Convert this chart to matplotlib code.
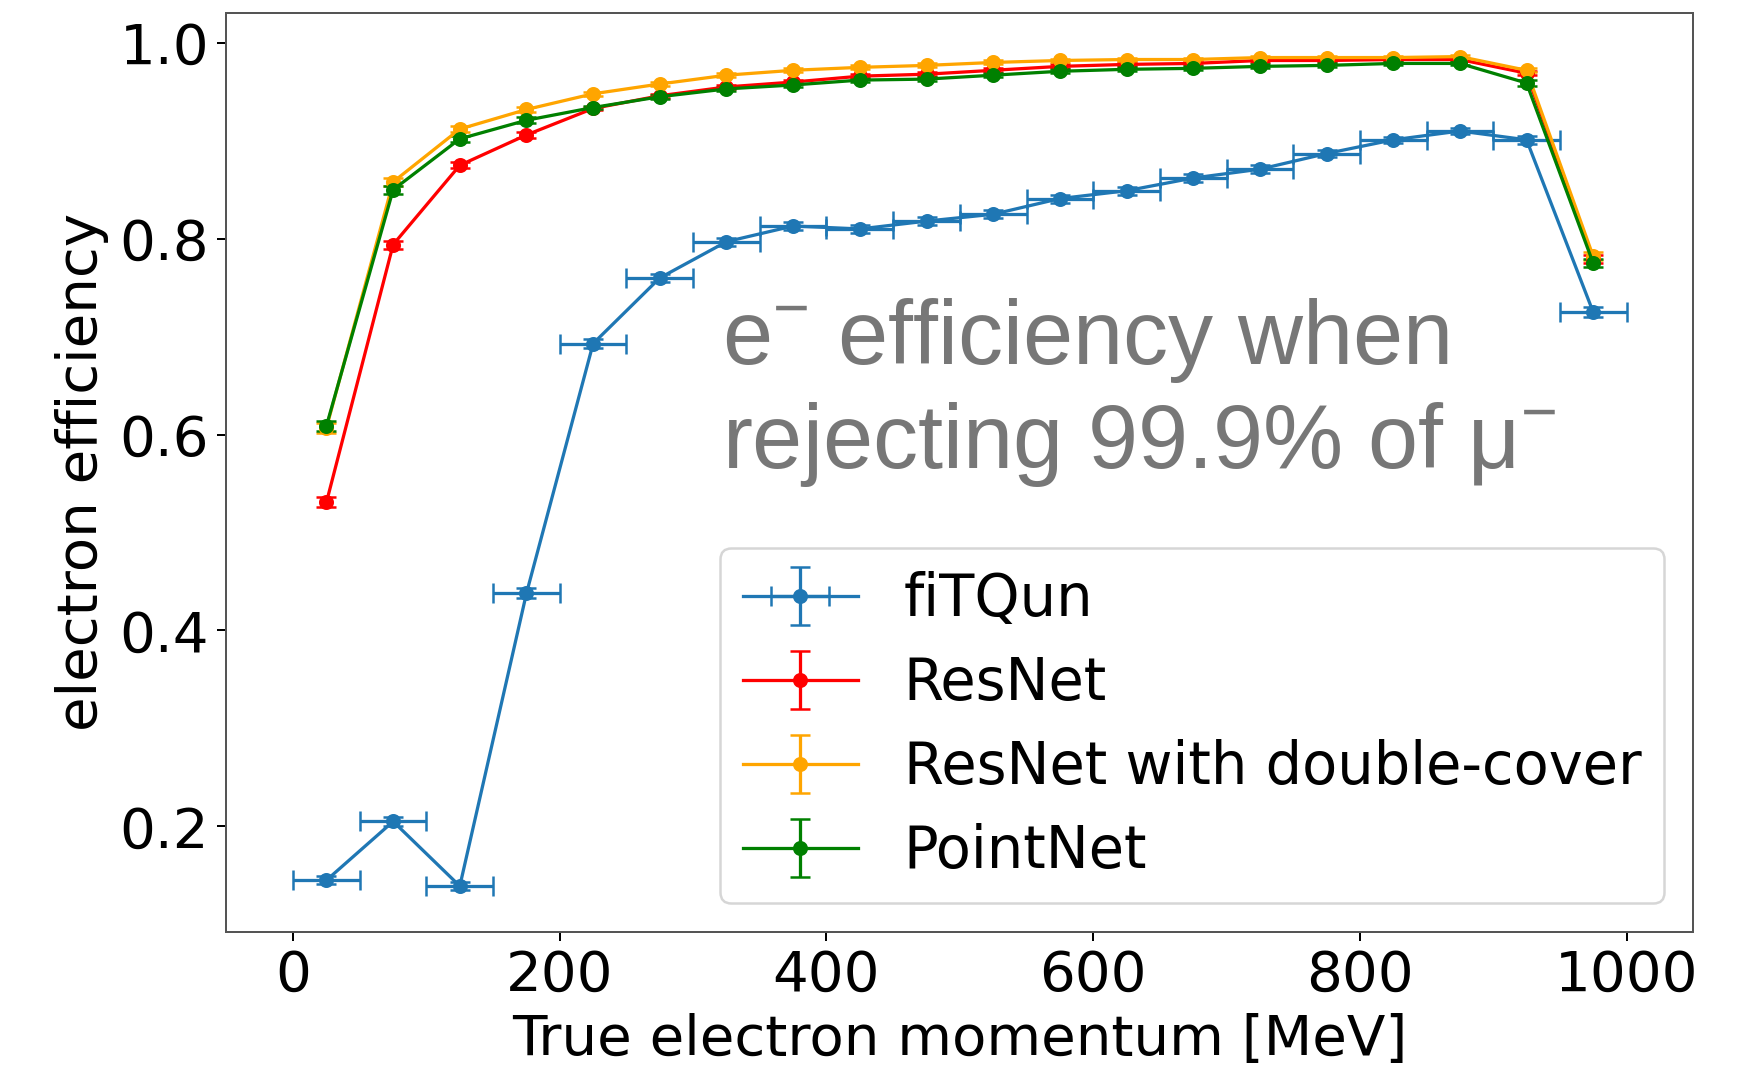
import matplotlib
matplotlib.use('Agg')
import matplotlib.pyplot as plt
import numpy as np

# данные: центры бинов по импульсу и эффективности
momentum = [25, 75, 125, 175, 225, 275, 325, 375, 425, 475,
            525, 575, 625, 675, 725, 775, 825, 875, 925, 975]
bin_half_width = 25

fitqun = [0.145, 0.205, 0.139, 0.438, 0.693, 0.760, 0.797, 0.813, 0.810, 0.818,
          0.825, 0.841, 0.849, 0.862, 0.871, 0.887, 0.901, 0.910, 0.901, 0.725]
resnet = [0.531, 0.794, 0.875, 0.906, 0.933, 0.946, 0.955, 0.960, 0.966, 0.968,
          0.972, 0.976, 0.978, 0.979, 0.982, 0.982, 0.983, 0.983, 0.969, 0.779]
resnet_dc = [0.607, 0.858, 0.912, 0.932, 0.948, 0.958, 0.967, 0.972, 0.975, 0.977,
             0.980, 0.982, 0.983, 0.983, 0.985, 0.985, 0.985, 0.986, 0.972, 0.782]
pointnet = [0.609, 0.850, 0.902, 0.921, 0.934, 0.945, 0.953, 0.957, 0.962, 0.963,
            0.967, 0.971, 0.973, 0.974, 0.976, 0.977, 0.979, 0.979, 0.959, 0.775]

# маленькие статистические ошибки
fitqun_err = [0.004, 0.005, 0.004, 0.005, 0.005, 0.004, 0.004, 0.004, 0.004, 0.004,
              0.004, 0.004, 0.004, 0.004, 0.004, 0.004, 0.003, 0.003, 0.004, 0.005]
resnet_err = [0.005, 0.004, 0.003, 0.003, 0.002, 0.002, 0.002, 0.002, 0.002, 0.002,
              0.002, 0.002, 0.002, 0.002, 0.002, 0.002, 0.002, 0.002, 0.002, 0.004]
resnet_dc_err = resnet_err
pointnet_err = [0.005, 0.004, 0.003, 0.003, 0.002, 0.002, 0.002, 0.002, 0.002, 0.002,
                0.002, 0.002, 0.002, 0.002, 0.002, 0.002, 0.002, 0.002, 0.003, 0.004]

labels = ['fiTQun', 'ResNet', 'ResNet with double-cover', 'PointNet']

plt.rcParams['font.size'] = 22.5
plt.rcParams['axes.edgecolor'] = '#555555'

fig = plt.figure(figsize=(1742 / 180, 1071 / 180), dpi=180)
ax = fig.add_axes([0.130, 0.130, 0.842, 0.858])

ax.errorbar(momentum, fitqun, xerr=bin_half_width, yerr=fitqun_err,
            color='#1f77b4', marker='o', markersize=5, lw=1.3, capsize=4,
            label=labels[0])
ax.errorbar(momentum, resnet, yerr=resnet_err, color='red', marker='o',
            markersize=5, lw=1.3, capsize=4, label=labels[1])
ax.errorbar(momentum, resnet_dc, yerr=resnet_dc_err, color='orange', marker='o',
            markersize=5, lw=1.3, capsize=4, label=labels[2])
ax.errorbar(momentum, pointnet, yerr=pointnet_err, color='green', marker='o',
            markersize=5, lw=1.3, capsize=4, label=labels[3])

ax.set_xlabel('True electron momentum [MeV]')
ax.set_ylabel('electron efficiency')
ax.set_xticks([0, 200, 400, 600, 800, 1000])
ax.set_yticks([0.2, 0.4, 0.6, 0.8, 1.0])

ax.legend(loc='lower right', fontsize=23, labelspacing=0.47)

ax.text(322, 0.566,
        'e$^{\\mathregular{-}}$ efficiency when\nrejecting 99.9% of μ$^{\\mathregular{-}}$',
        family=['Liberation Sans', 'DejaVu Sans'], fontsize=36, color='#777777',
        va='baseline', ha='left', linespacing=1.22)

fig.savefig('out.png', dpi=180)
